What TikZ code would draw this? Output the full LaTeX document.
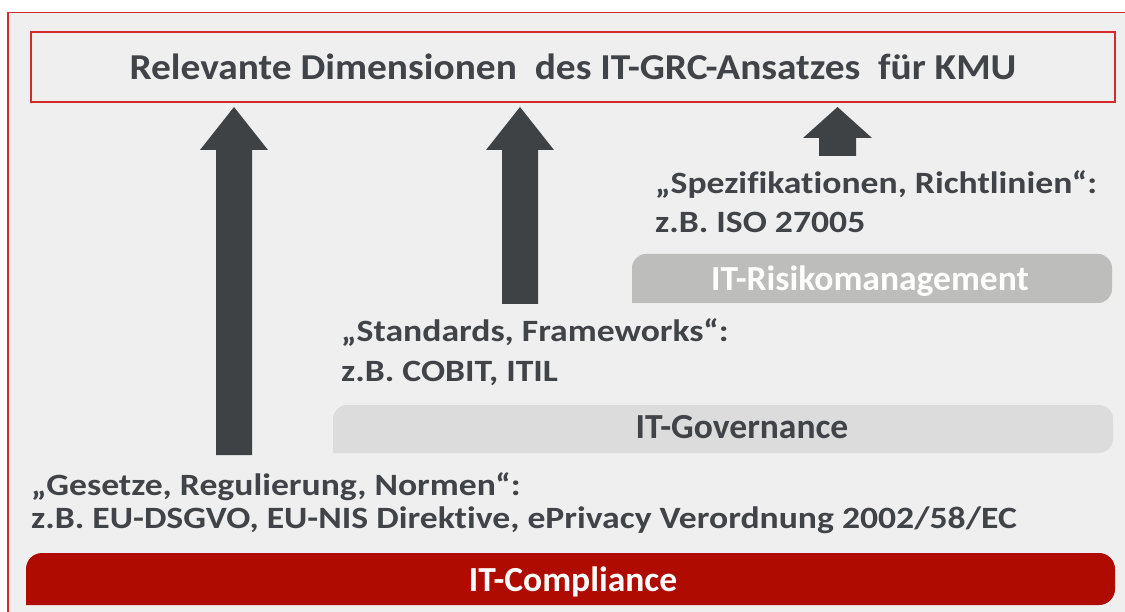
\documentclass[tikz,border=0pt]{standalone}
\usepackage{fontspec}
\setmainfont{Carlito}[Ligatures={NoCommon}]

\definecolor{panel}{HTML}{EFEFEF}
\definecolor{frame}{HTML}{D42A2A}
\definecolor{ink}{HTML}{404347}
\definecolor{arrowgray}{HTML}{3F4245}
\definecolor{riskgray}{HTML}{BDBDBC}
\definecolor{govgray}{HTML}{DCDCDC}
\definecolor{compred}{HTML}{B00B00}

% slightly widened lettering
\newcommand\widetext[2]{\scalebox{#1}[1]{#2}}

\tikzset{
  titlebox/.style={draw=frame, line width=1.6pt, minimum width=1084pt, minimum height=70pt,
    inner sep=0pt, font=\fontsize{36.5}{42}\selectfont\bfseries, text=ink},
  body/.style={anchor=base west, inner sep=0pt, font=\fontsize{31}{36}\selectfont\bfseries, text=ink},
  barlabel/.style={anchor=base, inner sep=0pt, font=\fontsize{35.2}{40}\selectfont\bfseries},
  blockarrow/.style={fill=arrowgray},
}

% bar with rounded corners except the lower left one
\newcommand\levelbar[6]{% x1, y1, x2, y2, colour, radius
  \fill[#5, rounded corners=#6] (#1,#4) -- (#1,#2) -- (#3,#2) -- (#3,#4) -- (#1,#4);
}
% upward block arrow: centre x, bottom y, tip y, head base y, shaft half width, head half width
\newcommand\uparrowshape[6]{%
  \fill[blockarrow] (#1-#5,#2) -- (#1-#5,#4) -- (#1-#6,#4) -- (#1,#3)
    -- (#1+#6,#4) -- (#1+#5,#4) -- (#1+#5,#2) -- cycle;
}

\begin{document}
\begin{tikzpicture}[x=1pt, y=-1pt]
  \useasboundingbox (0,0) rectangle (1125,612);
  \fill[white] (0,0) rectangle (1125,612);
  \fill[panel] (8,12.5) rectangle (1126,613);
  \draw[frame, line width=1.3pt] (8,613) -- (8,12.5) -- (1126,12.5);

  % heading
  \node[titlebox] (title) at (573,67)
    {\widetext{1.08}{Relevante Dimensionen\ \ des\ IT-GRC-Ansatzes\ \ für KMU}};

  % level bars
  \levelbar{632}{254}{1112}{303}{riskgray}{14pt}
  \levelbar{333}{405}{1113}{453}{govgray}{14pt}
  \levelbar{26}{553}{1115}{605}{compred}{16pt}
  \node[barlabel, text=white] (risk) at (870,290.5) {\widetext{1.01}{IT-Risikomanagement}};
  \node[barlabel, text=ink] (gov) at (742,438) {\widetext{1.01}{IT-Governance}};
  \node[barlabel, text=white] (comp) at (573,591) {\widetext{1.01}{IT-Compliance}};

  % level descriptions
  \node[body] (spec) at (655,194) {\widetext{1.15}{„Spezifikationen, Richtlinien“:}};
  \node[body] (specex) at (655,232.5) {\widetext{1.15}{z.B. ISO 27005}};
  \node[body] (std) at (341,341.5) {\widetext{1.15}{„Standards, Frameworks“:}};
  \node[body] (stdex) at (341,381.5) {\widetext{1.15}{z.B. COBIT, ITIL}};
  \node[body] (law) at (31,495) {\widetext{1.15}{„Gesetze, Regulierung, Normen“:}};
  \node[body] (lawex) at (31,528.5) {\widetext{1.15}{z.B. EU-DSGVO, EU-NIS Direktive, ePrivacy Verordnung 2002/58/EC}};

  % arrows towards the heading
  \uparrowshape{234}{455}{107}{150}{18}{34}
  \uparrowshape{520}{304}{107}{150}{18}{34}
  \uparrowshape{837.5}{156}{107}{138}{18.5}{34.5}
\end{tikzpicture}
\end{document}
